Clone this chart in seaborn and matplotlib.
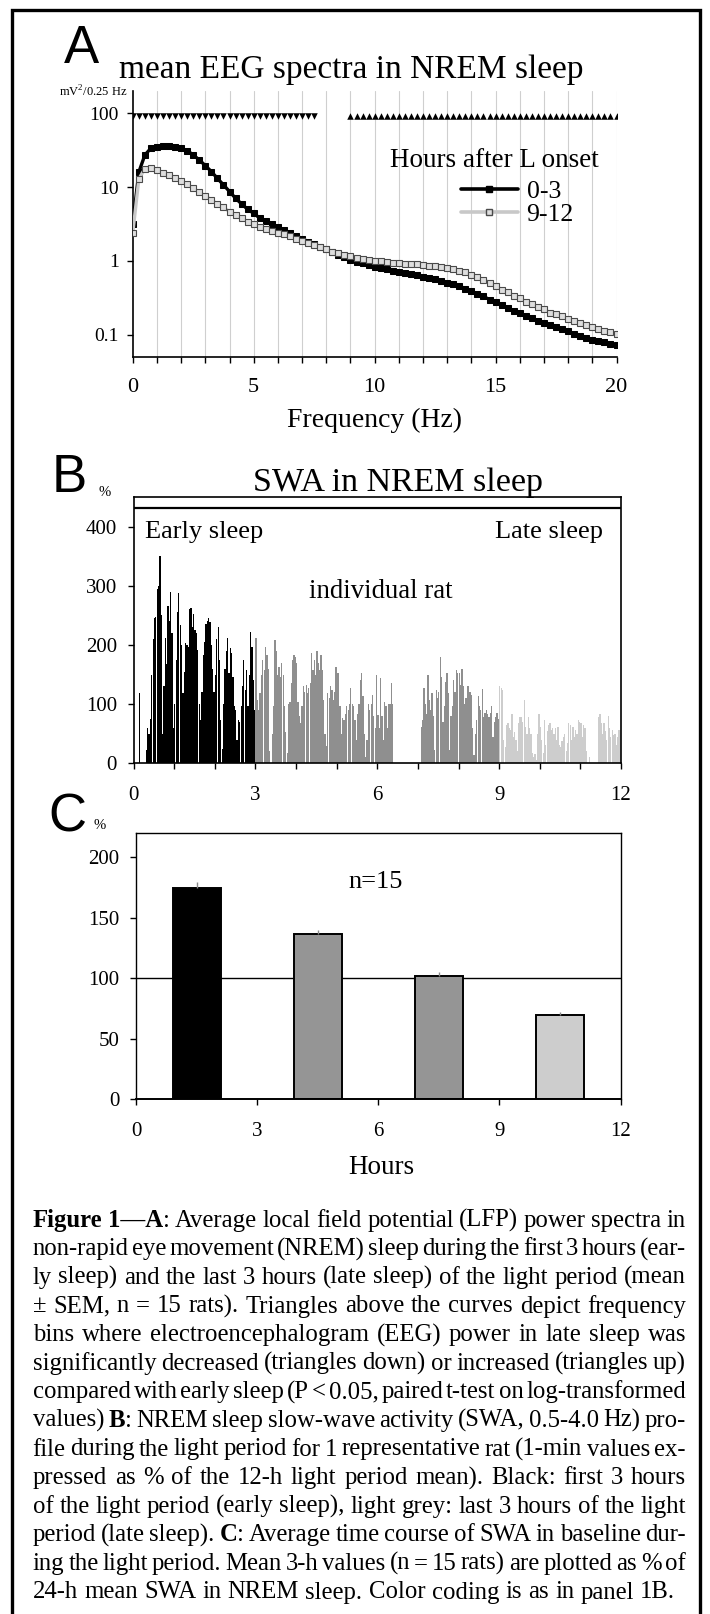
import re
import numpy as np
import pandas as pd
import matplotlib
matplotlib.use('Agg')
import matplotlib.pyplot as plt
from matplotlib.patches import Rectangle
from matplotlib.lines import Line2D
from matplotlib.ticker import MultipleLocator, NullLocator, FixedLocator
import seaborn as sns

# ------------------------
# data
# ------------------------
# A: mean NREM spectra (0.25 Hz bins)
freq = np.arange(0, 20.01, 0.25)
spec_early = [3.16, 16.0, 27.2, 33.6, 35.3, 36.5, 36.5, 35.3, 33.6, 31.2,
              27.2, 23.3, 19.5, 16.2, 13.1, 10.7, 8.7, 7.05, 5.9, 5.0,
              4.4, 3.8, 3.5, 3.2, 2.9, 2.6, 2.36, 2.2, 2.0, 1.83,
              1.69, 1.56, 1.43, 1.31, 1.20, 1.12, 1.04, 0.98, 0.93, 0.89,
              0.84, 0.80, 0.77, 0.74, 0.71, 0.68, 0.66, 0.64, 0.61, 0.59,
              0.57, 0.54, 0.51, 0.48, 0.46, 0.42, 0.39, 0.36, 0.33, 0.30,
              0.28, 0.25, 0.23, 0.21, 0.195, 0.18, 0.168, 0.155, 0.145, 0.135,
              0.126, 0.118, 0.111, 0.103, 0.097, 0.091, 0.086, 0.082, 0.079, 0.076, 0.072]
spec_late = [2.41, 12.9, 17.8, 18.3, 17.1, 15.7, 14.6, 13.4, 12.2, 10.9,
             9.6, 8.5, 7.6, 6.7, 5.9, 5.3, 4.65, 4.2, 3.78, 3.4,
             3.16, 2.9, 2.7, 2.54, 2.39, 2.28, 2.15, 2.0, 1.86, 1.73,
             1.62, 1.52, 1.43, 1.34, 1.27, 1.21, 1.16, 1.11, 1.07, 1.04,
             1.01, 0.99, 0.97, 0.95, 0.93, 0.91, 0.91, 0.90, 0.88, 0.86,
             0.85, 0.82, 0.80, 0.77, 0.74, 0.70, 0.65, 0.60, 0.56, 0.51,
             0.46, 0.41, 0.38, 0.34, 0.31, 0.28, 0.26, 0.24, 0.22, 0.20,
             0.19, 0.177, 0.166, 0.155, 0.145, 0.137, 0.128, 0.12, 0.114, 0.108, 0.104]
sig_down = np.arange(0, 7.51, 0.25)   # late < early
sig_up = np.arange(9, 20.01, 0.25)    # late > early
spec_groups = ['0-3', '9-12']

# B: SWA of one rat, 2-min bins, % of 12-h mean
swa_early = [0, 0, 0, 0, 118, 0, 0, 0, 0, 22,
             59, 50, 75, 150, 210, 245, 248, 295, 300, 350,
             250, 50, 130, 211, 168, 265, 240, 290, 220, 60,
             100, 175, 255, 287, 234, 200, 118, 155, 203, 200,
             197, 260, 262, 231, 253, 225, 220, 191, 101, 73,
             120, 183, 205, 236, 240, 245, 238, 200, 160, 121,
             150, 210, 231, 175, 73, 25, 100, 160, 189, 211,
             152, 194, 186, 146, 96, 90, 40, 73, 70, 96,
             130, 175, 124, 158, 96, 150, 222, 197, 141, 90]
swa_mid1 = [211, 107, 90, 118, 150, 175, 158, 196, 183, 160,
            20, 0, 50, 96, 208, 189, 150, 163, 146, 169,
            150, 96, 53, 17, 101, 104, 135, 175, 183, 180,
            169, 104, 80, 68, 96, 130, 121, 132, 118, 127,
            135, 186, 158, 175, 150, 190, 170, 158, 183, 158,
            107, 50, 30, 118, 110, 130, 124, 107, 120, 163,
            152, 152, 96, 50, 76, 73, 84, 96, 90, 101,
            127, 101, 96, 73, 40, 84, 100, 141, 152, 113,
            50, 11, 39, 101, 90, 101, 115, 80, 60, 150]
swa_mid2 = [82, 60, 144, 80, 39, 104, 96, 60, 101, 100,
            135, 101, 0, 0, 0, 0, 0, 0, 0, 0,
            0, 0, 0, 0, 0, 0, 0, 0, 0, 0,
            0, 0, 62, 73, 127, 100, 84, 149, 107, 90,
            118, 80, 22, 124, 110, 121, 180, 146, 70, 96,
            138, 153, 118, 22, 80, 96, 141, 120, 158, 152,
            152, 132, 160, 130, 101, 110, 130, 130, 120, 115,
            60, 14, 50, 73, 113, 96, 90, 125, 79, 85,
            90, 84, 79, 85, 96, 45, 70, 79, 85, 75]
swa_late = [130, 127, 124, 40, 28, 65, 68, 59, 56, 84,
            45, 53, 39, 20, 68, 79, 79, 70, 107, 62,
            50, 79, 60, 50, 17, 11, 15, 6, 50, 84,
            62, 40, 17, 73, 31, 55, 65, 68, 56, 59,
            50, 59, 40, 62, 31, 28, 37, 45, 50, 20,
            35, 68, 65, 39, 62, 45, 56, 50, 73, 70,
            68, 45, 65, 60, 20, 0, 11, 0, 0, 0,
            0, 0, 0, 79, 84, 68, 50, 68, 55, 39,
            80, 59, 45, 56, 48, 50, 31, 45, 56, 56]

# C: mean 3-h SWA (n=15)
c_hours = [1.5, 4.5, 7.5, 10.5]
c_mean = [174.7, 136.5, 101.9, 69.5]
c_sem = [5.0, 3.3, 3.3, 2.2]
c_group = ['0-3', '3-6', '6-9', '9-12']

caption_lines = [
    "**Figure** **1—A**: Average local field potential (LFP) power spectra in",
    "non-rapid eye movement (NREM) sleep during the first 3 hours (ear-",
    "ly sleep) and the last 3 hours (late sleep) of the light period (mean",
    "± SEM, n = 15 rats). Triangles above the curves depict frequency",
    "bins where electroencephalogram (EEG) power in late sleep was",
    "significantly decreased (triangles down) or increased (triangles up)",
    "compared with early sleep (P < 0.05, paired t-test on log-transformed",
    "values) **B**: NREM sleep slow-wave activity (SWA, 0.5-4.0 Hz) pro-",
    "file during the light period for 1 representative rat (1-min values ex-",
    "pressed as % of the 12-h light period mean). Black: first 3 hours",
    "of the light period (early sleep), light grey: last 3 hours of the light",
    "period (late sleep). **C**: Average time course of SWA in baseline dur-",
    "ing the light period. Mean 3-h values (n = 15 rats) are plotted as % of",
    "24-h mean SWA in NREM sleep. Color coding is as in panel 1B.",
]

BLACK = '#000000'
GREY = '#8f8f8f'
LIGHT = '#cdcdcd'

# ------------------------
# style
# ------------------------
sns.set_theme(style='ticks')
plt.rcParams['font.family'] = ['Liberation Serif', 'DejaVu Serif']
plt.rcParams['mathtext.fontset'] = 'custom'
plt.rcParams['mathtext.rm'] = 'Liberation Serif'
plt.rcParams['mathtext.bf'] = 'Liberation Serif:bold'
for k in ['axes.edgecolor', 'text.color', 'xtick.color', 'ytick.color', 'axes.labelcolor']:
    plt.rcParams[k] = 'black'

W, H = 710, 1614
fig = plt.figure(figsize=(W / 100, H / 100), dpi=100)


def rect(l, t, r, b):
    return [l / W, 1 - b / H, (r - l) / W, (b - t) / H]


def ftext(x, y, s, **kw):
    return fig.text(x / W, 1 - y / H, s, **kw)


# outer frame
fig.patches.append(Rectangle((11.5 / W, -0.01), (700 - 11.5) / W, 1 - 10 / H + 0.01,
                             transform=fig.transFigure, fill=False, lw=2.4,
                             edgecolor='black', clip_on=False))

# ------------------------
# A: spectra
# ------------------------
ax_a = fig.add_axes(rect(132.8, 91, 616.5, 357))
spec_df = pd.DataFrame({'freq': np.concatenate([freq, freq]),
                        'power': spec_early + spec_late,
                        'hours': [spec_groups[0]] * len(freq) + [spec_groups[1]] * len(freq)})
sns.lineplot(data=spec_df[spec_df.hours == '0-3'], x='freq', y='power', color=BLACK,
             lw=2.4, marker='s', markersize=4.3, markerfacecolor=BLACK,
             markeredgecolor=BLACK, ax=ax_a, zorder=3)
sns.lineplot(data=spec_df[spec_df.hours == '9-12'], x='freq', y='power', color='#c8c8c8',
             lw=2.4, marker='s', markersize=4.3, markerfacecolor='#dedede',
             markeredgecolor='#4a4a4a', markeredgewidth=0.8, ax=ax_a, zorder=4)
sns.scatterplot(x=sig_down, y=np.full(len(sig_down), 92), marker='v', s=22,
                color=BLACK, linewidth=0, ax=ax_a, zorder=5)
sns.scatterplot(x=sig_up, y=np.full(len(sig_up), 92), marker='^', s=22,
                color=BLACK, linewidth=0, ax=ax_a, zorder=5)
ax_a.set_yscale('log')
ax_a.set_ylim(0.05, 200)
ax_a.set_xlim(0, 20)
ax_a.yaxis.set_major_locator(FixedLocator([0.1, 1, 10, 100]))
ax_a.yaxis.set_minor_locator(NullLocator())
ax_a.set_yticklabels(['0.1', '1', '10', '100'])
ax_a.xaxis.set_major_locator(MultipleLocator(5))
ax_a.xaxis.set_minor_locator(MultipleLocator(1))
for f in range(1, 21):
    ax_a.axvline(f, color='#cfcfcf', lw=0.8, zorder=0)
ax_a.tick_params(axis='x', which='both', direction='out', length=4, width=1, labelsize=16, pad=11)
ax_a.tick_params(axis='y', which='major', direction='out', length=4, width=1, labelsize=14, pad=6)
sns.despine(ax=ax_a)
for s in ['left', 'bottom']:
    ax_a.spines[s].set_linewidth(1.2)
ax_a.set_ylabel('')
ax_a.set_xlabel('Frequency (Hz)', fontsize=20)
ax_a.xaxis.set_label_coords(0.5, -0.19)
ax_a.set_title('mean EEG spectra in NREM sleep', fontsize=24, x=0.452, y=1.049,
               va='baseline', pad=0)
ax_a.text(0.747, 0.74, 'Hours after L onset', transform=ax_a.transAxes, fontsize=19.5,
          ha='center', va='center')
handles = [Line2D([], [], color=BLACK, lw=2.6, marker='s', ms=4.5, mfc=BLACK, mec=BLACK),
           Line2D([], [], color='#c8c8c8', lw=2.6, marker='s', ms=4.5, mfc='#dedede', mec='#4a4a4a')]
ax_a.legend(handles, spec_groups, loc='upper left', bbox_to_anchor=(461 / W, 1 - 180 / H),
            bbox_transform=fig.transFigure, frameon=False, fontsize=18.5, handlelength=2.2,
            handletextpad=0.35, labelspacing=0.0, borderpad=0, borderaxespad=0)

ftext(64, 63, 'A', fontsize=38, family='Liberation Sans', va='baseline')
ftext(59, 97, r'mV$^2$/0.25 Hz', fontsize=9, va='baseline')

# ------------------------
# B: SWA individual rat
# ------------------------
ax_b = fig.add_axes(rect(133.5, 497, 621, 763.3))
b_vals = swa_early + swa_mid1 + swa_mid2 + swa_late
b_hours = (np.arange(len(b_vals)) + 0.5) / 30
b_seg = ['early'] * len(swa_early) + ['mid'] * (len(swa_mid1) + len(swa_mid2)) + ['late'] * len(swa_late)
sns.barplot(x=b_hours, y=b_vals, hue=b_seg, palette={'early': BLACK, 'mid': GREY, 'late': LIGHT},
            native_scale=True, width=0.92, dodge=False, linewidth=0, saturation=1,
            errorbar=None, legend=False, ax=ax_b)
ax_b.set_xlim(0, 12)
ax_b.set_ylim(0, 450)
ax_b.axhline(432, color='black', lw=1.6)
ax_b.xaxis.set_major_locator(MultipleLocator(3))
ax_b.xaxis.set_minor_locator(MultipleLocator(1))
ax_b.yaxis.set_major_locator(FixedLocator([0, 100, 200, 300, 400]))
ax_b.tick_params(axis='x', which='both', direction='out', length=4, width=1, labelsize=15, pad=12)
ax_b.tick_params(axis='y', direction='out', length=4, width=1, labelsize=15, pad=8)
for s in ax_b.spines.values():
    s.set_linewidth(1.2)
ax_b.set_xlabel('')
ax_b.set_ylabel('')
ax_b.set_title('SWA in NREM sleep', fontsize=24.5, x=0.543, y=1.024, va='baseline', pad=0)
ftext(145, 538, 'Early sleep', fontsize=19, va='baseline')
ftext(495, 538, 'Late sleep', fontsize=19, va='baseline')
ftext(381, 598, 'individual rat', fontsize=19.3, va='baseline', ha='center')
ftext(52, 492, 'B', fontsize=38, family='Liberation Sans', va='baseline')
ftext(98, 496, '%', fontsize=10.5, va='baseline')

# ------------------------
# C: mean 3-h SWA
# ------------------------
ax_c = fig.add_axes(rect(136.4, 832.7, 620.5, 1099.3))
sns.barplot(x=c_hours, y=c_mean, hue=c_group,
            palette={'0-3': BLACK, '3-6': '#959595', '6-9': '#959595', '9-12': LIGHT},
            native_scale=True, width=0.4, dodge=False, edgecolor='black', linewidth=1.4,
            saturation=1, errorbar=None, legend=False, ax=ax_c, zorder=2)
ax_c.errorbar(c_hours, c_mean, yerr=[np.zeros(len(c_sem)), c_sem], fmt='none',
              ecolor='#8a8a8a', elinewidth=1, capsize=0, zorder=3)
ax_c.axhline(100, color='black', lw=1, zorder=1)
ax_c.set_xlim(0, 12)
ax_c.set_ylim(0, 220)
ax_c.xaxis.set_major_locator(MultipleLocator(3))
ax_c.yaxis.set_major_locator(FixedLocator([0, 50, 100, 150, 200]))
ax_c.tick_params(axis='x', direction='out', length=4, width=1, labelsize=15, pad=12)
ax_c.tick_params(axis='y', direction='out', length=4, width=1, labelsize=15, pad=8)
for s in ax_c.spines.values():
    s.set_linewidth(1.0)
ax_c.spines['bottom'].set_linewidth(1.4)
ax_c.set_ylabel('')
ax_c.set_xlabel('Hours', fontsize=19.5)
ax_c.xaxis.set_label_coords(0.507, -0.209)
ftext(376, 888, 'n=15', fontsize=19, va='baseline', ha='center')
ftext(48, 831, 'C', fontsize=38, family='Liberation Sans', va='baseline')
ftext(93, 829, '%', fontsize=10.5, va='baseline')

# ------------------------
# caption, justified
# ------------------------
CAP_L, CAP_R, CAP_Y0, CAP_DY, CAP_FS = 32.7, 686, 1226.7, 28.6, 17.8
renderer = fig.canvas.get_renderer()


def pieces(word):
    out = []
    for part in re.split(r'(\*\*[^*]+\*\*)', word):
        if part.startswith('**'):
            out.append((part[2:-2], 'bold'))
        elif part:
            out.append((part, 'normal'))
    return out


def measure(line, fs):
    words = []
    for w in line.split(' '):
        objs = [ftext(0, 0, s, fontsize=fs, fontweight=wt, va='baseline') for s, wt in pieces(w)]
        widths = [o.get_window_extent(renderer).width for o in objs]
        words.append((objs, widths))
    return words


probe = ftext(0, 0, 'a a', fontsize=CAP_FS)
w_aa = probe.get_window_extent(renderer).width
probe.set_text('aa')
space_px = w_aa - probe.get_window_extent(renderer).width
probe.remove()

for li, line in enumerate(caption_lines):
    fs = CAP_FS
    words = measure(line, fs)
    total = sum(sum(ws) for _, ws in words)
    min_need = total + (len(words) - 1) * 0.45 * space_px
    if min_need > CAP_R - CAP_L:
        for objs, _ in words:
            for o in objs:
                o.remove()
        fs = CAP_FS * (CAP_R - CAP_L) / min_need
        words = measure(line, fs)
        total = sum(sum(ws) for _, ws in words)
    if li == len(caption_lines) - 1:
        gap = space_px
    else:
        gap = (CAP_R - CAP_L - total) / (len(words) - 1)
    x = CAP_L
    y = CAP_Y0 + li * CAP_DY
    for objs, widths in words:
        for o, w in zip(objs, widths):
            o.set_position((x / W, 1 - y / H))
            x += w
        x += gap

fig.savefig('out.png', dpi=100)
